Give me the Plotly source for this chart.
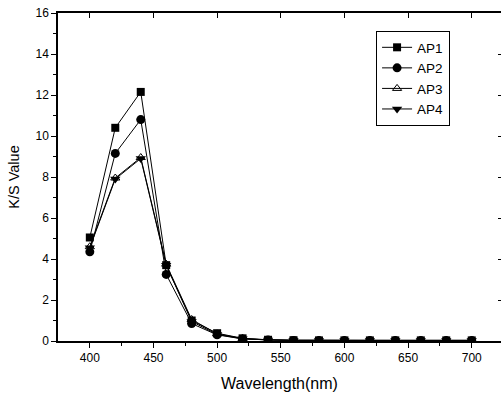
import plotly.graph_objects as go

wavelength = [400, 420, 440, 460, 480, 500, 520, 540, 560, 580, 600, 620, 640, 660, 680, 700]
ap1 = [5.05, 10.4, 12.15, 3.7, 1.0, 0.38, 0.13, 0.06, 0.04, 0.03, 0.03, 0.03, 0.03, 0.03, 0.03, 0.03]
ap2 = [4.35, 9.15, 10.8, 3.25, 0.85, 0.3, 0.1, 0.05, 0.03, 0.03, 0.02, 0.02, 0.02, 0.02, 0.02, 0.02]
ap3 = [4.6, 7.95, 8.95, 3.75, 1.05, 0.35, 0.12, 0.05, 0.03, 0.03, 0.03, 0.03, 0.03, 0.03, 0.03, 0.03]
ap4 = [4.55, 7.9, 8.9, 3.7, 0.95, 0.32, 0.11, 0.05, 0.03, 0.03, 0.03, 0.03, 0.03, 0.03, 0.03, 0.03]

series = [
    ("AP1", ap1, dict(symbol="square", size=8, color="black")),
    ("AP2", ap2, dict(symbol="circle", size=9, color="black")),
    ("AP3", ap3, dict(symbol="triangle-up-open", size=8, color="black", line=dict(width=1, color="black"))),
    ("AP4", ap4, dict(symbol="triangle-down", size=9, color="black")),
]

fig = go.Figure()
for name, vals, mk in series:
    fig.add_trace(go.Scatter(x=wavelength, y=vals, name=name, mode="lines+markers",
                             line=dict(color="black", width=1), marker=mk))

font = dict(family="Liberation Sans, Arial, sans-serif", color="black")
fig.update_layout(
    width=501, height=397,
    margin=dict(l=58, r=0, t=13, b=56),
    paper_bgcolor="white", plot_bgcolor="white",
    font=dict(size=12, **font),
    showlegend=True,
    legend=dict(x=0.718, y=0.945, xanchor="left", yanchor="top",
                bordercolor="black", borderwidth=1, bgcolor="white",
                font=dict(size=13.5, **font), tracegroupgap=0, itemwidth=30),
    xaxis=dict(range=[375, 723], tickvals=[400, 450, 500, 550, 600, 650, 700],
               ticks="outside", ticklen=5, tickwidth=1, tickcolor="black",
               minor=dict(tickvals=[425, 475, 525, 575, 625, 675], ticks="outside", ticklen=3, tickcolor="black"),
               showline=True, linecolor="black", linewidth=1.5, showgrid=False, zeroline=False,
               title=dict(text="Wavelength(nm)", font=dict(size=16, **font), standoff=14),
               tickfont=dict(size=12, **font)),
    yaxis=dict(range=[0, 16], tickvals=[0, 2, 4, 6, 8, 10, 12, 14, 16],
               ticks="outside", ticklen=5, tickwidth=1, tickcolor="black",
               minor=dict(tickvals=[1, 3, 5, 7, 9, 11, 13, 15], ticks="outside", ticklen=3, tickcolor="black"),
               showline=True, linecolor="black", linewidth=1.5, showgrid=False, zeroline=False,
               title=dict(text="K/S Value", font=dict(size=14.5, **font), standoff=12),
               tickfont=dict(size=12, **font)),
    xaxis2=dict(range=[375, 723], overlaying="x", side="top", tickvals=[400, 450, 500, 550, 600, 650, 700],
                ticks="inside", ticklen=5, tickcolor="black", showticklabels=False,
                showline=True, linecolor="black", linewidth=1.5, showgrid=False, zeroline=False),
    yaxis2=dict(range=[0, 16], overlaying="y", side="right", tickvals=[2, 4, 6, 8, 10, 12, 14],
                ticks="inside", ticklen=3, tickcolor="black", showticklabels=False,
                showline=False, showgrid=False, zeroline=False),
)
fig.add_trace(go.Scatter(x=[None], y=[None], xaxis="x2", yaxis="y2", showlegend=False, hoverinfo="skip"))
fig.write_html("out.html")
